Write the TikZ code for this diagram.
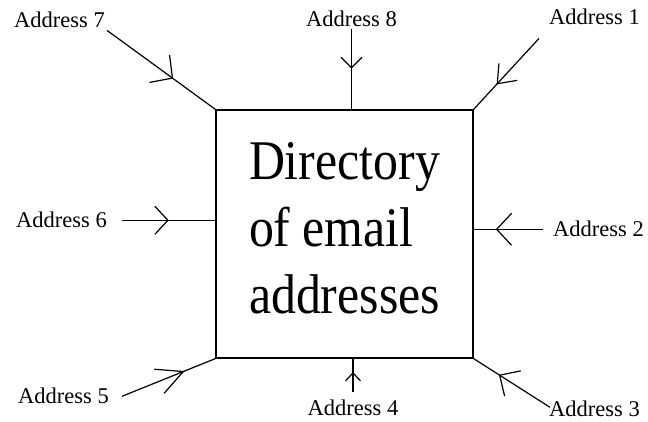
\documentclass[tikz,border=0pt]{standalone}
\usepackage{fontspec}
\setmainfont{Liberation Serif}
\newfontfamily\dirfont{Liberation Serif}[FakeStretch=0.89]
\usetikzlibrary{arrows.meta,decorations.markings}

\tikzset{
  addr/.style={font=\fontsize{22.5}{26}\selectfont, inner sep=2pt, anchor=base west},
  dirbox/.style={draw, line width=1.2pt, minimum width=257pt, minimum height=248pt,
    text width=191pt, align=left, inner sep=0pt, text height=26pt,
    font=\dirfont\fontsize{56}{67}\selectfont},
  % line with an open barb part way along it
  feed/.style n args={3}{line width=1.2pt, postaction={decorate,
    decoration={markings, mark=at position #1 with
      {\arrow{Straight Barb[length=#2pt,width=#3pt]}}}}}
}

\begin{document}
\begin{tikzpicture}[x=1pt,y=1pt]
\useasboundingbox (0,0) rectangle (648,422);

\node[dirbox] (dir) at (344.5,188) {Directory\\of\hspace{12pt}email\\addresses};

\node[addr] (a7) at (12,394) {Address 7};
\node[addr] (a8) at (304,395) {Address 8};
\node[addr] (a1) at (547,397) {Address 1};
\node[addr] (a6) at (14,194) {Address 6};
\node[addr] (a2) at (551,185) {Address 2};
\node[addr] (a5) at (16,18) {Address 5};
\node[addr] (a4) at (305.5,6) {Address 4};
\node[addr] (a3) at (547,5) {Address 3};

\draw[feed={0.61}{16}{34}] (a7.south east) -- (dir.north west);
\draw[feed={0.49}{10.5}{21}] (a8.south) -- (a8.south |- dir.north);
\draw[feed={0.65}{16}{25}] ([shift={(-8pt,-11pt)}]a1.south west) -- (dir.north east);
\draw[feed={0.5}{13}{28}] ([xshift=13pt]a6.east) -- (a6.east -| dir.west);
\draw[feed={0.68}{15}{32}] ([xshift=-8pt]a2.west) -- (a2.west -| dir.east);
\draw[feed={0.67}{26}{26}] ([xshift=11pt]a5.east) -- (dir.south west);
\draw[feed={0.6}{8}{15}] ([yshift=6pt]a4.north) -- (a4.north |- dir.south);
\draw[feed={0.67}{15.5}{30}] ([shift={(3pt,2pt)}]a3.west) -- (dir.south east);
\end{tikzpicture}
\end{document}
